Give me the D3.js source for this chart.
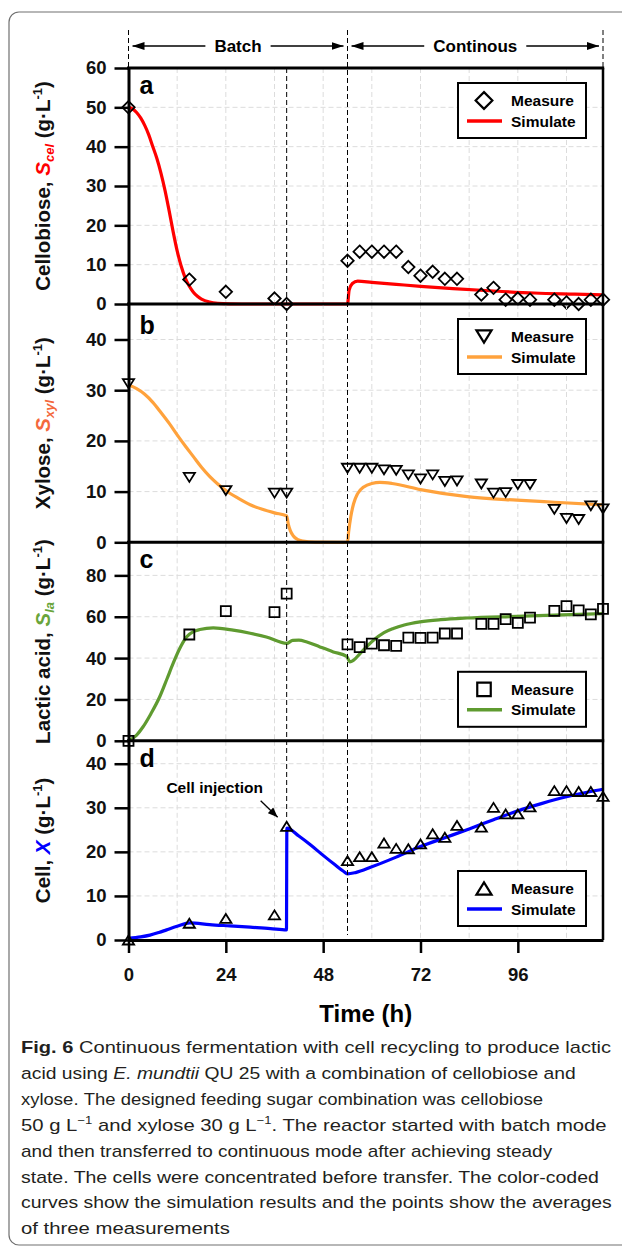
<!DOCTYPE html>
<html>
<head>
<meta charset="utf-8">
<script src="https://cdn.jsdelivr.net/npm/d3@7"></script>
<style>
  body { margin: 0; background: #fff; }
  svg { display: block; }
</style>
</head>
<body>
<svg width="622" height="1251"></svg>
<script>
// ---- data ----
// measurement times (h), shared by the four panels
var tMeas = [0, 15, 24, 36, 39, 54, 57, 60, 63, 66, 69, 72, 75, 78, 81, 87, 90, 93, 96, 99, 105, 108, 111, 114, 117];

var celMeas  = [50, 6.2, 3.1, 1.4, 0, 11.0, 13.3, 13.3, 13.3, 13.3, 9.4, 7.2, 8.2, 6.4, 6.4, 2.4, 4.1, 1.1, 1.4, 1.1, 1.1, 0.4, 0, 1.1, 1.1];
var xylMeas  = [31.3, 12.8, 10.2, 9.7, 9.7, 14.6, 14.6, 14.6, 14.3, 14.2, 13.3, 12.5, 13.3, 12.0, 12.1, 11.5, 9.7, 9.8, 11.4, 11.4, 6.5, 4.7, 4.5, 7.2, 6.6];
var laMeas   = [0, 51.4, 62.7, 62.2, 71.2, 46.6, 45.3, 47.0, 46.2, 45.9, 49.9, 49.8, 49.9, 51.9, 51.9, 56.5, 56.5, 58.8, 57.0, 59.6, 62.8, 65.1, 63.1, 61.1, 63.8];
var cellMeas = [0, 3.8, 4.9, 5.7, 25.8, 18.0, 18.9, 18.9, 22.0, 20.8, 20.7, 21.8, 24.1, 23.3, 26.0, 25.6, 30.1, 28.6, 28.6, 30.2, 33.9, 33.9, 33.7, 33.7, 32.6];

// simulated curves [time, value]
var celSim = [[0,50],[1,49.6],[2,48.7],[3,47.3],[4,45.4],[5,43.0],[6,40.0],[7,37.0],[8,33.3],[9,28.9],[10,23.8],[11,18.4],
  [12,13.5],[13,9.6],[14,6.6],[15,4.5],[16,3.0],[17,1.95],[18,1.25],[20,0.5],[22,0.18],[25,0.03],[28,0],[54,0],
  [54.4,3.5],[55.2,5.2],[56.5,5.8],[60,5.5],[66,5.0],[72,4.5],[80,3.9],[90,3.3],[100,2.8],[110,2.5],[117,2.3]];
var xylSim = [[0,31],[2,30.3],[4,29.2],[6,27.6],[8,25.6],[10,23.5],[12,21.2],[14,19.0],[16,16.9],[18,14.8],[20,13.0],
  [22,11.5],[24,10.2],[27,8.7],[30,7.4],[33,6.5],[36,5.8],[39,5.2],[39.4,3.6],[39.9,2.3],[40.6,1.3],[41.6,0.6],[43,0.25],
  [46,0.05],[54,0],[54.3,2.2],[54.8,5],[55.5,7.6],[56.5,9.6],[58,10.9],[60,11.6],[62,11.8],[65,11.6],[72,10.4],
  [83.5,9.0],[95.8,8.3],[105,7.9],[117,7.4]];
var laSim = [[0,0],[2,2.8],[3.6,6.8],[5.5,13],[7.7,21.3],[9.5,30],[11,37.4],[12.6,44.5],[14.3,50.2],[16,52.8],[17.6,53.8],
  [20.9,54.6],[25.8,53.5],[30,52],[34,50.2],[39,47.1],[40.5,48.6],[42,48.7],[44,47.8],[47.2,45.4],[50.5,43],[53.8,40.8],
  [54.6,38.2],[55.5,39],[57.1,42.2],[60.4,48.6],[63,52.3],[65.3,54.3],[68,56],[71.9,57.5],[77,58.6],[83.5,59.4],
  [95.8,60.2],[105,60.8],[117,61.5]];
var cellSim = [[0,0.4],[3,0.7],[5.3,1.1],[7.5,1.7],[9.4,2.3],[12,3.1],[15.1,3.9],[20,3.5],[25,3.2],[30,2.9],[35,2.6],
  [38.95,2.3],[39.05,25.4],[42,23.6],[45,21.5],[48,19.2],[51,17.0],[53,15.6],[54,15.0],[56,15.3],[60,16.6],[66,18.8],
  [72,21.2],[78,23.2],[84,25.2],[90,27.3],[96,29.3],[102,31.0],[108,32.5],[114,33.7],[117,34.2]];

var celTicks = [0, 10, 20, 30, 40, 50, 60];
var xylTicks = [0, 10, 20, 30, 40];
var laTicks = [0, 20, 40, 60, 80];
var cellTicks = [0, 10, 20, 30, 40];
var timeTicks = [0, 24, 48, 72, 96];
var gridHours = [12, 24, 36, 48, 60, 72, 84, 96, 108];

var phases = [[0, 54, "Batch"], [54, 117, "Continous"]];
var batchEnd = 39, contStart = 54;

var captionLines = [
  [{t: "Fig. 6", b: 1}, {t: "  Continuous fermentation with cell recycling to produce lactic"}],
  [{t: "acid using "}, {t: "E. mundtii", i: 1}, {t: " QU 25 with a combination of cellobiose and"}],
  [{t: "xylose. "}, {t: "The designed feeding sugar combination was cellobiose"}],
  [{t: "50 g L"}, {t: "\u22121", sup: 1}, {t: " and xylose 30 g L"}, {t: "\u22121", sup: 1}, {t: ". The reactor started with batch mode"}],
  [{t: "and then transferred to continuous mode after achieving steady"}],
  [{t: "state. The cells were concentrated before transfer. The color-coded"}],
  [{t: "curves show the simulation results and the points show the averages"}],
  [{t: "of three measurements"}]
];

// ---- drawing ----
var svg = d3.select("svg");
var font = "'Liberation Sans', Arial, Helvetica, sans-serif";

var x = d3.scaleLinear().domain([0, 117]).range([128.5, 603]);

var panels = [
  {letter: "a", name: "Cellobiose, ", sym: "S", sub: "cel", labelColor: "#ff0000", color: "#ff0000",
   meas: celMeas, sim: celSim, yMax: 60, ticks: celTicks, top: 68, bottom: 304, shape: "diamond", legendTop: true, letterDy: 25.5},
  {letter: "b", name: "Xylose, ", sym: "S", sub: "xyl", labelColor: "#f4683c", color: "#ffa23c",
   meas: xylMeas, sim: xylSim, yMax: 47, ticks: xylTicks, top: 304, bottom: 542.3, shape: "triDown", legendTop: true, letterDy: 30},
  {letter: "c", name: "Lactic acid, ", sym: "S", sub: "la", labelColor: "#6aa53a", color: "#5f9b30",
   meas: laMeas, sim: laSim, yMax: 96, ticks: laTicks, top: 542.3, bottom: 740.8, shape: "square", legendTop: false, letterDy: 26},
  {letter: "d", name: "Cell, ", sym: "X", sub: "", labelColor: "#0000ff", color: "#0000ff",
   meas: cellMeas, sim: cellSim, yMax: 45.2, ticks: cellTicks, top: 740.8, bottom: 940, shape: "triUp", legendTop: false, letterDy: 26}
];

function shapePath(shape, k) {
  var r;
  if (shape == "diamond") { r = 6.2 * k; return "M0," + (-r) + "L" + r + ",0L0," + r + "L" + (-r) + ",0Z"; }
  if (shape == "square") { r = 5 * k; return "M" + (-r) + "," + (-r) + "H" + r + "V" + r + "H" + (-r) + "Z"; }
  var w = 5.6 * k, h = 4.5 * k;
  if (shape == "triDown") return "M" + (-w) + "," + (-h) + "L" + w + "," + (-h) + "L0," + h + "Z";
  return "M" + (-w) + "," + h + "L" + w + "," + h + "L0," + (-h) + "Z";
}

// outer frame of the figure
svg.append("rect")
  .attr("x", 9).attr("y", 12).attr("width", 640).attr("height", 1233).attr("rx", 10)
  .attr("fill", "none").attr("stroke", "#707070").attr("stroke-width", 1.2);

var defs = svg.append("defs");
defs.append("marker").attr("id", "head")
  .attr("viewBox", "0 0 12 8").attr("refX", 12).attr("refY", 4)
  .attr("markerWidth", 12).attr("markerHeight", 8)
  .attr("markerUnits", "userSpaceOnUse").attr("orient", "auto-start-reverse")
  .append("path").attr("d", "M0,0L12,4L0,8Z").attr("fill", "#000");
defs.append("marker").attr("id", "head2")
  .attr("viewBox", "0 0 10 8").attr("refX", 10).attr("refY", 4)
  .attr("markerWidth", 10).attr("markerHeight", 8)
  .attr("markerUnits", "userSpaceOnUse").attr("orient", "auto")
  .append("path").attr("d", "M0,0L10,4L0,8Z").attr("fill", "#000");

var line = d3.line().curve(d3.curveMonotoneX)
  .x(function(d) { return x(d[0]); });

panels.forEach(function(p) {
  var y = d3.scaleLinear().domain([0, p.yMax]).range([p.bottom, p.top]);
  var g = svg.append("g");

  // grid
  g.selectAll(".vg").data(gridHours).enter().append("line")
    .attr("x1", function(d) { return x(d); }).attr("x2", function(d) { return x(d); })
    .attr("y1", p.top).attr("y2", p.bottom)
    .attr("stroke", "#dcdcdc").attr("stroke-width", 1).attr("stroke-dasharray", "5,3");
  g.selectAll(".hg").data(p.ticks.filter(function(d) { return d > 0 && d < p.yMax; })).enter().append("line")
    .attr("x1", x(0)).attr("x2", x(117))
    .attr("y1", function(d) { return y(d); }).attr("y2", function(d) { return y(d); })
    .attr("stroke", "#dcdcdc").attr("stroke-width", 1).attr("stroke-dasharray", "5,3");

  // simulated curve
  g.append("path")
    .attr("d", line.y(function(d) { return y(d[1]); })(p.sim))
    .attr("fill", "none").attr("stroke", p.color).attr("stroke-width", 3.2)
    .attr("stroke-linejoin", "round");

  // measurements
  g.selectAll(".m").data(p.meas).enter().append("path")
    .attr("transform", function(d, i) { return "translate(" + x(tMeas[i]) + "," + y(d) + ")"; })
    .attr("d", shapePath(p.shape, 1))
    .attr("fill", "none").attr("stroke", "#000").attr("stroke-width", 1.8);

  // left axis
  var ax = g.append("g").attr("transform", "translate(" + x(0) + ",0)")
    .call(d3.axisLeft(y).tickValues(p.ticks).tickSize(14).tickPadding(8).tickSizeOuter(0));
  ax.select(".domain").attr("stroke-width", 3);
  ax.selectAll(".tick line").attr("stroke-width", 2.5);
  ax.selectAll(".tick text").attr("font-family", font).attr("font-size", 18.5)
    .attr("font-weight", "bold").attr("fill", "#111");

  // top border of panel
  g.append("line").attr("x1", x(0) - 1.5).attr("x2", x(117) + 1.2)
    .attr("y1", p.top).attr("y2", p.top)
    .attr("stroke", "#000").attr("stroke-width", 3);

  // panel letter
  g.append("text").attr("x", x(0) + 11).attr("y", p.top + p.letterDy)
    .attr("font-family", font).attr("font-size", 25).attr("font-weight", "bold")
    .text(p.letter);

  // y label
  var lab = g.append("text")
    .attr("transform", "translate(50," + (p.top + p.bottom) / 2 + ") rotate(-90)")
    .attr("text-anchor", "middle").attr("font-family", font)
    .attr("font-size", 20.5).attr("font-weight", "bold").attr("fill", "#111");
  lab.append("tspan").text(p.name);
  lab.append("tspan").attr("fill", p.labelColor).attr("font-style", "italic").text(p.sym);
  if (p.sub) {
    lab.append("tspan").attr("fill", p.labelColor).attr("font-style", "italic")
      .attr("font-size", 13).attr("dy", 4).text(p.sub);
    lab.append("tspan").attr("dy", -4).text(" (g\u00b7L");
  } else {
    lab.append("tspan").text(" (g\u00b7L");
  }
  lab.append("tspan").attr("font-size", 13).attr("dy", -8).text("-1");
  lab.append("tspan").attr("dy", 8).text(")");

  // legend
  var bw = 128, bh = 55;
  var bx = x(117) - 17 - bw;
  var by = p.legendTop ? p.top + 15 : p.bottom - 14 - bh;
  var lg = g.append("g").attr("transform", "translate(" + bx + "," + by + ")");
  lg.append("rect").attr("width", bw).attr("height", bh)
    .attr("fill", "#fff").attr("stroke", "#000").attr("stroke-width", 2);
  lg.append("path").attr("transform", "translate(26,17.5)")
    .attr("d", shapePath(p.shape, 1.35))
    .attr("fill", "none").attr("stroke", "#000").attr("stroke-width", 2.2);
  lg.append("line").attr("x1", 9).attr("x2", 44).attr("y1", 38).attr("y2", 38)
    .attr("stroke", p.color).attr("stroke-width", 3.6);
  lg.selectAll("text").data(["Measure", "Simulate"]).enter().append("text")
    .attr("x", 53).attr("y", function(d, i) { return i ? 43.5 : 23; })
    .attr("font-family", font).attr("font-size", 15.5).attr("font-weight", "bold")
    .text(function(d) { return d; });
});

// right border
svg.append("line").attr("x1", x(117)).attr("x2", x(117))
  .attr("y1", 68).attr("y2", 940).attr("stroke", "#000").attr("stroke-width", 2.5);

// bottom time axis
var pd = panels[3];
var yd = d3.scaleLinear().domain([0, pd.yMax]).range([pd.bottom, pd.top]);
var xa = svg.append("g").attr("transform", "translate(0,940)")
  .call(d3.axisBottom(x).tickValues(timeTicks).tickSize(13).tickPadding(15).tickSizeOuter(0));
xa.select(".domain").attr("stroke-width", 3);
xa.selectAll(".tick line").attr("stroke-width", 2.5);
xa.selectAll(".tick text").attr("font-family", font).attr("font-size", 18.5)
  .attr("font-weight", "bold").attr("fill", "#111");

svg.append("text").attr("x", (x(0) + x(117)) / 2).attr("y", 1022)
  .attr("text-anchor", "middle").attr("font-family", font)
  .attr("font-size", 24).attr("font-weight", "bold").text("Time (h)");

// dashed phase markers
svg.append("line").attr("x1", x(batchEnd)).attr("x2", x(batchEnd))
  .attr("y1", 68).attr("y2", yd(25.8) - 9)
  .attr("stroke", "#000").attr("stroke-width", 1).attr("stroke-dasharray", "5,3");
svg.append("line").attr("x1", x(contStart)).attr("x2", x(contStart))
  .attr("y1", 30).attr("y2", 935)
  .attr("stroke", "#000").attr("stroke-width", 1).attr("stroke-dasharray", "5,3");
[0, 117].forEach(function(t) {
  svg.append("line").attr("x1", x(t)).attr("x2", x(t)).attr("y1", 30).attr("y2", 67)
    .attr("stroke", "#000").attr("stroke-width", 1).attr("stroke-dasharray", "5,3");
});

// phase arrows on top
phases.forEach(function(ph) {
  var cx = x((ph[0] + ph[1]) / 2);
  var t = svg.append("text").attr("x", cx).attr("y", 52).attr("text-anchor", "middle")
    .attr("font-family", font).attr("font-size", 17).attr("font-weight", "bold").text(ph[2]);
  var tw = t.node().getComputedTextLength();
  svg.append("line").attr("x1", x(ph[0]) + 4).attr("x2", cx - tw / 2 - 9)
    .attr("y1", 46).attr("y2", 46).attr("stroke", "#000").attr("stroke-width", 1.4)
    .attr("marker-start", "url(#head)");
  svg.append("line").attr("x1", cx + tw / 2 + 9).attr("x2", x(ph[1]) - 4)
    .attr("y1", 46).attr("y2", 46).attr("stroke", "#000").attr("stroke-width", 1.4)
    .attr("marker-end", "url(#head)");
});

// cell injection note
var px = x(batchEnd), py = yd(25.8);
svg.append("text").attr("x", px - 72).attr("y", py - 33.5).attr("text-anchor", "middle")
  .attr("font-family", font).attr("font-size", 15.5).attr("font-weight", "bold").text("Cell injection");
svg.append("line").attr("x1", px - 26).attr("y1", py - 25.5).attr("x2", px - 9).attr("y2", py - 9)
  .attr("stroke", "#000").attr("stroke-width", 1.3).attr("marker-end", "url(#head2)");

// caption, each line stretched to the width it has in the figure
var captionEnds = [612, 576, 543, 607, 553, 599, 612, 230];
var cap = svg.append("g").attr("font-family", font).attr("font-size", 17).attr("fill", "#231f20");
captionLines.forEach(function(segs, i) {
  var t = cap.append("text").attr("x", 0).attr("y", 0);
  var shift = 0;
  segs.forEach(function(s) {
    var ts = t.append("tspan").text(s.t);
    if (s.b) ts.attr("font-weight", "bold");
    if (s.i) ts.attr("font-style", "italic");
    if (s.sup) { ts.attr("font-size", 11).attr("dy", -7); shift = 7; }
    else if (shift) { ts.attr("dy", shift); shift = 0; }
  });
  var w = t.node().getBBox().width;
  var sx = (captionEnds[i] - 21) / w;
  t.attr("transform", "translate(21," + (1053 + i * 25.9) + ") scale(" + sx + ",1)");
});
</script>
</body>
</html>
